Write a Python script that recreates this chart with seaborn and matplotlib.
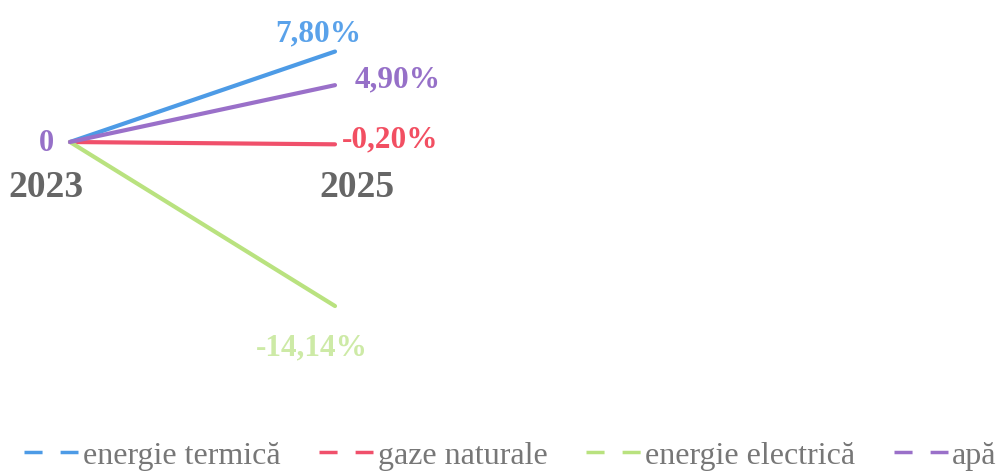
import matplotlib
matplotlib.use('Agg')
import matplotlib.pyplot as plt
from matplotlib.lines import Line2D
import numpy as np
import pandas as pd
import seaborn as sns

# Chart data
ani = ['2023', '2025']
serii = ['energie termică', 'gaze naturale', 'energie electrică', 'apă']
start = [0, 0, 0, 0]
final = [7.80, -0.20, -14.14, 4.90]
etichete = ['7,80%', '-0,20%', '-14,14%', '4,90%']

culori = ['#4d9be6', '#f0506b', '#b9e27f', '#9a70c9']
culori_text = ['#5aa2ea', '#f24f62', '#cdeaa6', '#9670c8']

sns.set_theme(style='white')
plt.rcParams['font.family'] = ['Liberation Serif', 'DejaVu Serif']

rows = []
for s, a, b in zip(serii, start, final):
    rows.append({'x': 0, 'val': a, 'serie': s})
    rows.append({'x': 1, 'val': b, 'serie': s})
df = pd.DataFrame(rows)

fig = plt.figure(figsize=(10.03, 4.72), dpi=100)
ax = fig.add_axes([0, 0, 1, 1])
sns.lineplot(data=df, x='x', y='val', hue='serie', hue_order=serii,
             palette=culori, linewidth=3, legend=False, ax=ax)

# pixel mapping: x 0->70px, 1->335px ; y 0 -> 142px, ~11.6 px per %
ax.set_xlim(-70 / 265, (1003 - 70) / 265)
ax.set_ylim(-(472 - 142) / 11.6, 142 / 11.6)
ax.axis('off')

# value labels at 2025
offs = [(-12, 13), (40, 3), (-17, -30), (45, 4)]
for v, lab, c, o in zip(final, etichete, culori_text, offs):
    ax.annotate(lab, (1, v), xytext=o, textcoords='offset points',
                ha='center', va='center', fontsize=22.5, fontweight='bold', color=c)

ax.annotate('0', (0, 0), xytext=(-17, -1), textcoords='offset points',
            ha='center', va='center', fontsize=22, fontweight='bold', color='#9670c8')
for i, an in enumerate(ani):
    ax.annotate(an, (i, 0), xytext=(-17 if i == 0 else 16, -33), textcoords='offset points',
                ha='center', va='center', fontsize=27, fontweight='bold', color='#666666')

handles = [Line2D([], [], color=c, lw=2.5, linestyle=(0, (5.2, 5.2))) for c in culori]
leg = fig.legend(handles, serii, loc='lower left', bbox_to_anchor=(0.024, 0.003),
                 ncol=4, frameon=False, fontsize=23, handlelength=1.7,
                 handletextpad=0.13, columnspacing=1.22,
                 borderaxespad=0, borderpad=0)
for t in leg.get_texts():
    t.set_color('#777777')

fig.savefig('out.png', dpi=100)
